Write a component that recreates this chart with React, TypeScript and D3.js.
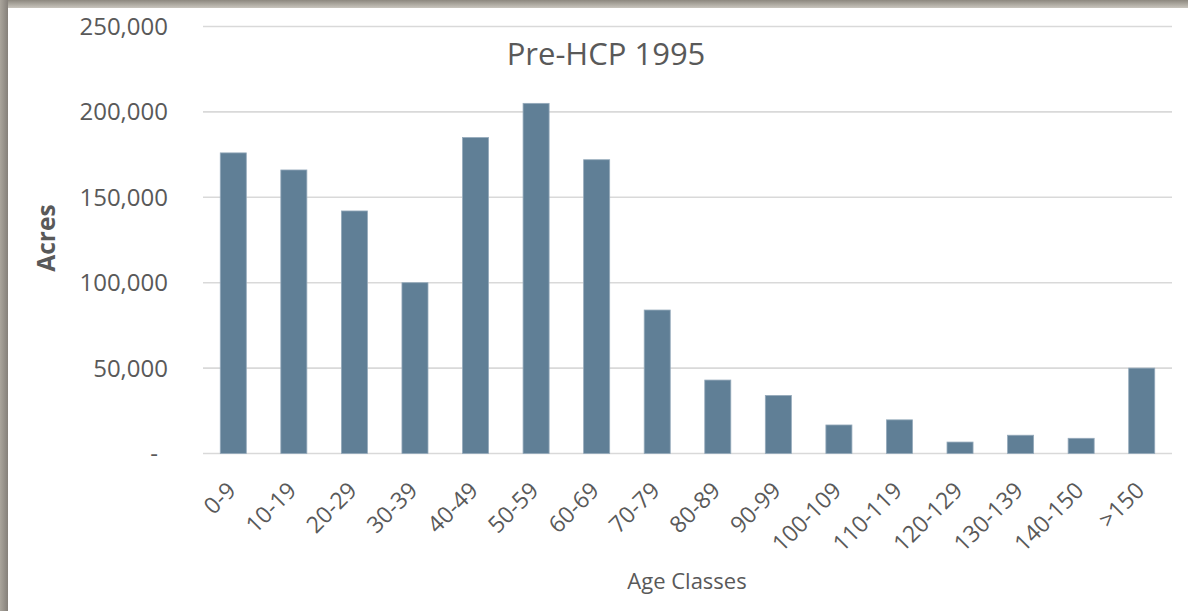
import React from 'react';
import * as d3 from 'd3';

// age class categories and acreage
const ageClasses = [
  '0-9', '10-19', '20-29', '30-39', '40-49', '50-59', '60-69', '70-79',
  '80-89', '90-99', '100-109', '110-119', '120-129', '130-139', '140-150', '>150',
];
const acres = [
  176000, 166000, 142000, 100000, 185000, 205000, 172000, 84000,
  43000, 34000, 16700, 19700, 6700, 10700, 8900, 50000,
];
const yTicks = [0, 50000, 100000, 150000, 200000, 250000];

const W = 1188;
const H = 611;
const FONT = '"Open Sans", "DejaVu Sans", sans-serif';

export default function App() {
  const x = d3.scaleBand<string>()
    .domain(ageClasses)
    .range([203, 1172])
    .paddingInner(0.57)
    .paddingOuter(0.285);
  const y = d3.scaleLinear()
    .domain([0, 250000])
    .range([453.5, 26.5]);
  const fmt = d3.format(',');

  return (
    <svg width={W} height={H} style={{ position: 'absolute', left: 0, top: 0, display: 'block' }}
      fontFamily={FONT}>
      <defs>
        <linearGradient id="topEdge" x1="0" y1="0" x2="0" y2="1">
          <stop offset="0" stopColor="#8d887f" />
          <stop offset="1" stopColor="#c9c5bd" />
        </linearGradient>
        <linearGradient id="leftEdge" x1="0" y1="0" x2="1" y2="0">
          <stop offset="0" stopColor="#aaa59c" />
          <stop offset="1" stopColor="#85807a" />
        </linearGradient>
      </defs>
      <rect width={W} height={H} fill="#fff" />
      <rect x={0} y={0} width={W} height={8} fill="url(#topEdge)" />
      <rect x={0} y={0} width={8} height={H} fill="url(#leftEdge)" />

      {/* gridlines */}
      {yTicks.map(t => (
        <line key={t} x1={203} x2={1172} y1={y(t)} y2={y(t)} stroke="#d9d9d9" strokeWidth={1.6} />
      ))}

      {/* y tick labels */}
      {yTicks.map(t => (
        <text key={t} x={t === 0 ? 158 : 168} y={y(t)} dy="0.35em" textAnchor="end"
          fontSize={24} fill="#595959">
          {t === 0 ? '-' : fmt(t)}
        </text>
      ))}

      {/* bars */}
      {ageClasses.map((c, i) => (
        <rect key={c} x={x(c)} y={y(acres[i])} width={x.bandwidth()} height={y(0) - y(acres[i])}
          fill="#607f96" stroke="#95aabb" strokeWidth={0.8} />
      ))}

      {/* x tick labels */}
      {ageClasses.map(c => {
        const cx = (x(c) as number) + x.bandwidth() / 2 + 4;
        return (
          <text key={c} transform={`translate(${cx},492) rotate(-45)`} textAnchor="end"
            fontSize={23} fill="#595959">
            {c}
          </text>
        );
      })}

      <text x={606} y={65} textAnchor="middle" fontSize={31} fill="#595959">Pre-HCP 1995</text>
      <text x={687} y={589} textAnchor="middle" fontSize={22} fill="#595959">Age Classes</text>
      <text transform="translate(55,238) rotate(-90)" textAnchor="middle" fontSize={24.5}
        fontWeight="bold" fill="#595959">Acres</text>
    </svg>
  );
}
